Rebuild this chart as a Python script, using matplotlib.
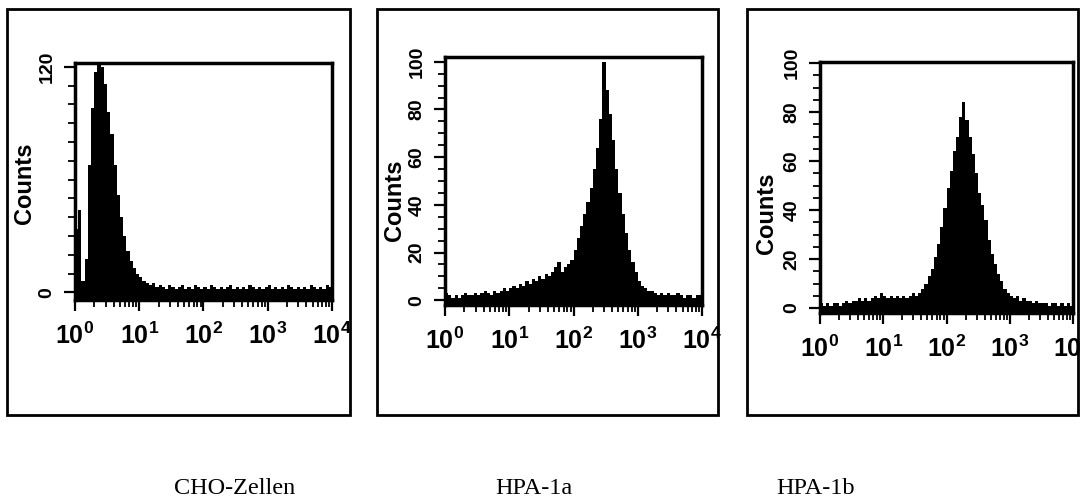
import numpy as np
import matplotlib
matplotlib.use("Agg")
import matplotlib.pyplot as plt
from matplotlib.patches import Rectangle
from matplotlib.ticker import FixedLocator, MultipleLocator, LogLocator, NullFormatter

plt.rcParams["font.family"] = "Liberation Sans"
plt.rcParams["font.weight"] = "bold"
plt.rcParams["mathtext.fontset"] = "custom"
plt.rcParams["mathtext.rm"] = "Liberation Sans:bold"
plt.rcParams["mathtext.it"] = "Liberation Sans:bold"
plt.rcParams["mathtext.bf"] = "Liberation Sans:bold"

# fluorescence channels: 80 bins over 4 log decades
channel_edges = 10 ** (np.arange(81) / 20)

# counts per channel
cho_counts = [34, 44, 6, 18, 68, 98, 117, 122, 120, 111,
              96, 84, 68, 52, 40, 30, 22, 17, 13, 10,
              8, 6, 5, 4, 5, 3, 4, 3, 2, 4,
              3, 2, 3, 4, 2, 3, 2, 4, 3, 2,
              3, 2, 4, 3, 2, 3, 2, 3, 4, 2,
              3, 2, 3, 2, 4, 3, 2, 3, 2, 3,
              4, 2, 3, 2, 3, 2, 4, 3, 2, 3,
              2, 3, 2, 4, 3, 2, 3, 2, 4, 3]

hpa1a_counts = [3, 2, 1, 2, 1, 2, 3, 2, 2, 3,
                2, 3, 4, 3, 2, 4, 3, 4, 5, 4,
                5, 6, 5, 7, 6, 8, 7, 9, 8, 10,
                9, 11, 10, 12, 14, 16, 12, 14, 15, 17,
                21, 26, 31, 36, 41, 47, 55, 64, 76, 100,
                88, 78, 67, 55, 45, 36, 28, 21, 16, 12,
                8, 6, 5, 4, 4, 3, 2, 3, 2, 3,
                2, 2, 3, 2, 1, 2, 2, 1, 2, 2]

hpa1b_counts = [2, 1, 2, 1, 2, 2, 1, 2, 3, 2,
                3, 3, 4, 3, 4, 3, 4, 5, 4, 6,
                5, 4, 5, 4, 5, 4, 5, 4, 5, 6,
                5, 6, 8, 10, 13, 16, 21, 26, 33, 41,
                49, 56, 64, 70, 78, 84, 77, 70, 63, 55,
                47, 42, 36, 28, 22, 18, 14, 11, 8, 6,
                5, 4, 5, 3, 4, 3, 3, 2, 3, 2,
                2, 2, 1, 2, 2, 1, 2, 1, 2, 1]

panel_names = ["CHO-Zellen", "HPA-1a", "HPA-1b"]
y_ticks = [[0, 120], [0, 20, 40, 60, 80, 100], [0, 20, 40, 60, 80, 100]]
y_limits = [(-4, 122), (-2, 102), (-2, 100.5)]
x_ticks = [1, 10, 100, 1000, 10000]
x_labels = ["$10^{0}$", "$10^{1}$", "$10^{2}$", "$10^{3}$", "$10^{4}$"]

W, H = 1081, 504
fig = plt.figure(figsize=(W / 100, H / 100), dpi=100)

# pixel boxes (left, top, right, bottom)
axes_px = [(75, 63, 332, 300), (445, 57, 702, 305), (820, 62, 1073, 313)]
frames_px = [(7, 9, 350, 415), (377, 9, 718, 415), (747, 9, 1078, 415)]
ylabel_px = [(25, 183), (395, 200), (767, 213)]
name_px = [(235, 488), (534, 488), (816, 488)]

all_counts = [cho_counts, hpa1a_counts, hpa1b_counts]

for k in range(3):
    l, t, r, b = axes_px[k]
    ax = fig.add_axes([l / W, 1 - b / H, (r - l) / W, (b - t) / H])
    ax.stairs(all_counts[k], channel_edges, fill=True, baseline=-20,
              color="black", lw=0.8)
    ax.set_xscale("log")
    ax.set_xlim(1, 10000)
    ax.set_ylim(*y_limits[k])

    ax.xaxis.set_major_locator(FixedLocator(x_ticks))
    ax.set_xticklabels(x_labels, fontsize=18)
    ax.xaxis.set_minor_locator(LogLocator(base=10, subs=np.arange(2, 10)))
    ax.xaxis.set_minor_formatter(NullFormatter())

    ax.yaxis.set_major_locator(FixedLocator(y_ticks[k]))
    ax.yaxis.set_minor_locator(MultipleLocator(5 if k else 10))
    ax.set_yticklabels([str(v) for v in y_ticks[k]], fontsize=14,
                       fontweight="bold", rotation=90, va="center")

    ax.tick_params(which="major", direction="out", length=8, width=1.6, pad=6)
    ax.tick_params(which="minor", direction="out", length=5, width=1.3)
    ax.tick_params(axis="x", pad=8)
    for sp in ax.spines.values():
        sp.set_linewidth(2.5)

    fl, ft, fr, fb = frames_px[k]
    fig.add_artist(Rectangle((fl / W, 1 - fb / H), (fr - fl) / W, (fb - ft) / H,
                             transform=fig.transFigure, fill=False,
                             edgecolor="black", lw=2))

    lx, ly = ylabel_px[k]
    fig.text(lx / W, 1 - ly / H, "Counts", rotation=90, ha="center",
             va="center", fontsize=17, fontweight="bold")

    nx, ny = name_px[k]
    fig.text(nx / W, 1 - ny / H, panel_names[k], ha="center", va="center",
             fontsize=17.5, fontweight="normal", family="Liberation Serif")

fig.savefig("out.png", dpi=100, facecolor="white")
